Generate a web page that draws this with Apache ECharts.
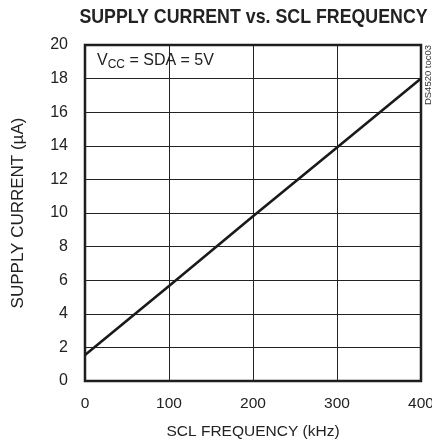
<!DOCTYPE html>
<html><head><meta charset="utf-8">
<script src="https://cdn.jsdelivr.net/npm/echarts@6/dist/echarts.min.js"></script>
<style>html,body{margin:0;padding:0;background:#fff}#c{width:432px;height:444px}</style>
</head><body><div id="c"></div>
<script>
const freqKHz = [0, 100, 200, 300, 400];
const supplyCurrent = [1.55, 5.65, 9.8, 13.9, 18.0];
const xTicks = [0, 100, 200, 300, 400];
const yTicks = [0, 2, 4, 6, 8, 10, 12, 14, 16, 18, 20];
const titleText = 'SUPPLY CURRENT vs. SCL FREQUENCY';
const FONT = '"Liberation Sans", Arial, Helvetica, sans-serif';

const chart = echarts.init(document.getElementById('c'), null, {renderer: 'canvas'});
chart.setOption({
  animation: false,
  textStyle: {fontFamily: FONT},
  grid: {left: 85, right: 11, top: 45, bottom: 63, show: true, borderColor: '#1a1a1a', borderWidth: 2.5,
    backgroundColor: 'transparent', containLabel: false, outerBoundsMode: 'none'},
  xAxis: {type: 'value', min: xTicks[0], max: xTicks[xTicks.length-1], interval: 100,
    name: 'SCL FREQUENCY (kHz)', nameLocation: 'middle', nameGap: 43,
    nameTextStyle: {fontFamily: FONT, fontSize: 15.5, color: '#222'},
    axisLine: {show: false}, axisTick: {show: false},
    axisLabel: {fontFamily: FONT, fontSize: 15.5, color: '#222', margin: 15},
    splitLine: {show: true, lineStyle: {color: '#222', width: 1}}},
  yAxis: {type: 'value', min: yTicks[0], max: yTicks[yTicks.length-1], interval: 2,
    name: 'SUPPLY CURRENT (µA)', nameLocation: 'middle', nameGap: 58,
    nameTextStyle: {fontFamily: FONT, fontSize: 17, color: '#222'},
    axisLine: {show: false}, axisTick: {show: false},
    axisLabel: {fontFamily: FONT, fontSize: 16, color: '#222', margin: 17},
    splitLine: {show: true, lineStyle: {color: '#222', width: 1}}},
  series: [{type: 'line', data: freqKHz.map((f, i) => [f, supplyCurrent[i]]),
    showSymbol: false, lineStyle: {color: '#1a1a1a', width: 2.6}}],
  graphic: [
    {type: 'text', x: 253.5, y: 17.5, scaleX: 0.847, style: {
      text: titleText, fontFamily: FONT, fontWeight: 'bold', fontSize: 21, fill: '#222',
      align: 'center', verticalAlign: 'middle'}},
    {type: 'text', left: 97, top: 53, style: {
      text: '{a|V}{s|CC}{a| = SDA = 5V}',
      rich: {a: {fontFamily: FONT, fontSize: 16, fill: '#222'},
             s: {fontFamily: FONT, fontSize: 12, fill: '#222', padding: [8, 0, 0, 0]}}}},
    {type: 'text', x: 428, y: 75, rotation: Math.PI / 2, style: {
      text: 'DS4520 toc03', fontFamily: FONT, fontSize: 9.5, fill: '#333', align: 'center', verticalAlign: 'middle'}}
  ]
});
</script></body></html>
